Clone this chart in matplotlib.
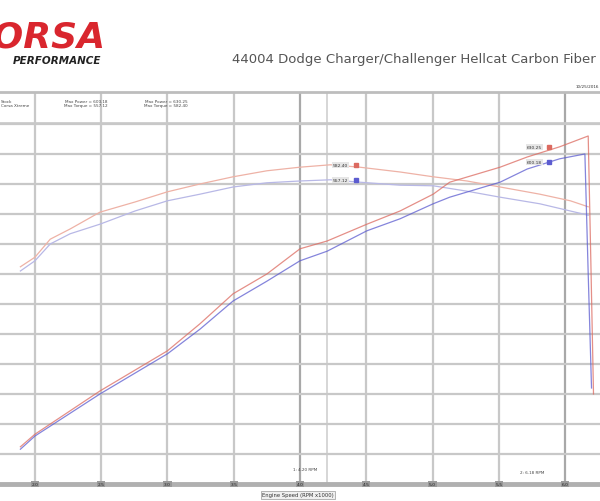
import numpy as np
import matplotlib
matplotlib.use('Agg')
import matplotlib.pyplot as plt

# dyno runs, engine speed in RPM
rpm_hp_a = [1890, 2000, 2490, 3000, 3245, 3495, 3750, 4000, 4205, 4505, 4755,
            5005, 5130, 5510, 5715, 5960, 6175, 6195, 6215]
hp_a = [112, 133, 205, 272, 317, 367, 400, 442, 455, 483, 505,
        533, 553, 578, 595, 612, 630, 420, 200]

rpm_hp_b = [1890, 2000, 2490, 3000, 3245, 3495, 3750, 4000, 4205, 4505, 4755,
            5005, 5130, 5510, 5715, 5960, 6150, 6175, 6200]
hp_b = [108, 130, 200, 267, 308, 355, 388, 422, 438, 472, 492,
        517, 528, 553, 575, 592, 600, 400, 210]

rpm_tq = [1890, 2000, 2115, 2265, 2490, 2755, 3000, 3245, 3495, 3750, 4000,
          4230, 4450, 4755, 5005, 5260, 5510, 5810, 6040, 6175]
tq_a = [412, 428, 458, 475, 503, 520, 537, 550, 562, 572, 578,
        582, 578, 570, 562, 555, 545, 533, 522, 512]
tq_b = [405, 422, 450, 467, 483, 505, 522, 533, 545, 552, 555,
        557, 553, 548, 547, 538, 528, 517, 505, 498]

x_ticks = [2000, 2500, 3000, 3500, 4000, 4500, 5000, 5500, 6000]
x_labels = ['2.0', '2.5', '3.0', '3.5', '4.0', '4.5', '5.0', '5.5', '6.0']
y_grid = list(range(100, 651, 50))

RED = '#dc6a60'
BLUE = '#5c5cd0'
RED_T = '#eeb2a6'
BLUE_T = '#b8b8e6'

fig = plt.figure(figsize=(6, 5.02), dpi=100)
ax = fig.add_axes([0, 1 - 485 / 502., 1, (485 - 93) / 502.])
ax.set_xlim(1736, 6264)
ax.set_ylim(50, 703.3)

for r in x_ticks:
    c = '#a8a8a8' if r in (4000, 6000) else '#c8c8c8'
    ax.axvline(r, color=c, lw=1.6, zorder=1)
ax.axvline(4204, color='#cfcfcf', lw=1.2, zorder=1)
for v in y_grid:
    ax.axhline(v, color='#c8c8c8', lw=1.6, zorder=1)

ax.plot(rpm_tq, tq_a, color=RED_T, lw=0.9, zorder=3)
ax.plot(rpm_tq, tq_b, color=BLUE_T, lw=0.9, zorder=3)
ax.plot(rpm_hp_a, hp_a, color=RED, lw=0.9, alpha=0.75, zorder=4)
ax.plot(rpm_hp_b, hp_b, color=BLUE, lw=0.9, alpha=0.75, zorder=4)

# value tags
for (xr, yv, txt, c) in [(5710, 612, '630.25', RED), (5710, 587, '600.18', BLUE),
                         (4250, 582, '582.40', RED), (4250, 557, '557.12', BLUE)]:
    ax.text(xr, yv, txt, fontsize=3.2, color='#333333', ha='left', va='center',
            bbox=dict(boxstyle='square,pad=0.2', fc='#e6e6e6', ec='none'), zorder=6)
    ax.plot([xr + 170], [yv], marker='s', ms=2.5, color=c, zorder=6)

for s in ['left', 'right']:
    ax.spines[s].set_visible(False)
ax.spines['top'].set_color('#bdbdbd')
ax.spines['top'].set_linewidth(2)
ax.spines['bottom'].set_color('#b0b0b0')
ax.spines['bottom'].set_linewidth(3.5)
ax.set_xticks([])
ax.set_yticks([])
for r, lab in zip(x_ticks, x_labels):
    ax.text(r, 50, lab, fontsize=3.2, color='#222222', ha='center', va='center',
            bbox=dict(boxstyle='square,pad=0.15', fc='#9a9a9a', ec='none'), zorder=7,
            clip_on=False)

# header band inside the chart
ax.axhline(652, color='#c8c8c8', lw=1.2, zorder=2)
hdr = dict(fontsize=3.0, color='#444444', va='center', zorder=6)
ax.text(1740, 685, 'Stock\nCorsa Xtreme', ha='left', **hdr)
ax.text(2550, 685, 'Max Power = 600.18\nMax Torque = 557.12', ha='right', **hdr)
ax.text(3150, 685, 'Max Power = 630.25\nMax Torque = 582.40', ha='right', **hdr)
ax.text(6260, 712, '10/25/2016', ha='right', fontsize=3.0, color='#333333', clip_on=False)

# cursor readouts
ax.text(4040, 73, '1: 4.20 RPM', fontsize=3.0, color='#444444', ha='center')
ax.text(5750, 68, '2: 6.18 RPM', fontsize=3.0, color='#444444', ha='center')

fig.text(298 / 600., 1 - 496 / 502., 'Engine Speed (RPM x1000)', fontsize=3.8,
         color='#333333', ha='center', va='center',
         bbox=dict(boxstyle='square,pad=0.2', fc='#f0f0f0', ec='#999999', lw=0.5))

# logo + title
fig.text(106 / 600., 1 - 37 / 502., 'CORSA', fontsize=26, color='#d9262e',
         fontweight='bold', fontstyle='italic', ha='right', va='center')
fig.text(101 / 600., 1 - 61 / 502., 'PERFORMANCE', fontsize=7.5, color='#222222',
         fontweight='bold', fontstyle='italic', ha='right', va='center')
fig.text(232 / 600., 1 - 60 / 502., '44004 Dodge Charger/Challenger Hellcat Carbon Fiber Intake',
         fontsize=9.5, color='#555555', ha='left', va='center',
         family=['Liberation Sans Narrow', 'DejaVu Sans'])

fig.savefig('out.png', dpi=100)
